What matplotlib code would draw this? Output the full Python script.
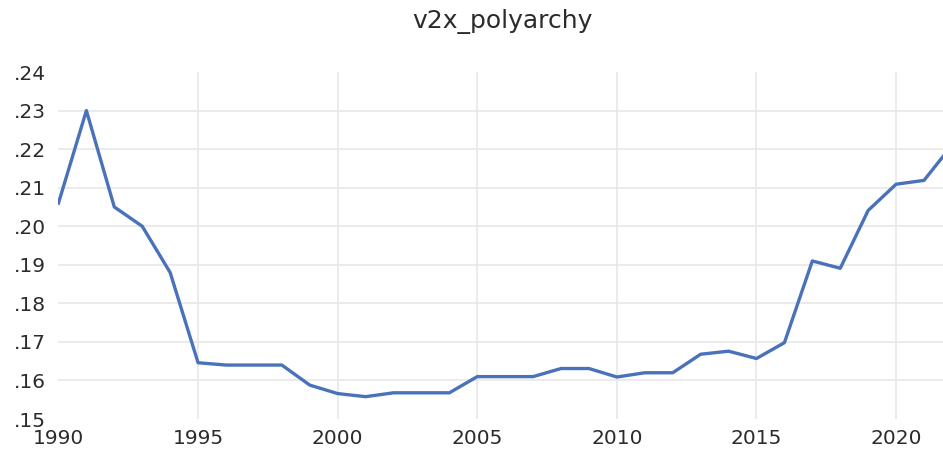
import numpy as np
import matplotlib.pyplot as plt
from matplotlib.ticker import FuncFormatter

# v2x_polyarchy by year
years = list(range(1990, 2023))
values = [0.206, 0.230, 0.205, 0.200, 0.188, 0.1646, 0.164, 0.164, 0.164, 0.1588,
          0.1566, 0.1558, 0.1568, 0.1568, 0.1568, 0.161, 0.161, 0.161, 0.1631, 0.1631,
          0.1609, 0.162, 0.162, 0.1668, 0.1676, 0.1657, 0.1698, 0.191, 0.1891, 0.2041,
          0.2109, 0.2119, 0.221]

title = 'v2x_polyarchy'
xticks = [1990, 1995, 2000, 2005, 2010, 2015, 2020]
yticks = [0.15, 0.16, 0.17, 0.18, 0.19, 0.20, 0.21, 0.22, 0.23, 0.24]

plt.rcParams['font.family'] = ['DejaVu Sans']

fig = plt.figure(figsize=(9.43, 4.53), dpi=100)
ax = fig.add_axes([0.062, 0.075, 0.938, 0.766])

ax.plot(years, values, color='#4A72BA', lw=2.4, solid_joinstyle='round')

ax.set_xlim(1990, 2021.68)
ax.set_ylim(0.15, 0.24)
ax.set_xticks(xticks)
ax.set_yticks(yticks)
ax.yaxis.set_major_formatter(FuncFormatter(lambda v, p: '{:.2f}'.format(v).lstrip('0')))

ax.grid(True, color='#E8E8E8', lw=1.2)
ax.set_axisbelow(True)
# no grid lines on the plot edges
ax.get_xgridlines()[0].set_visible(False)
ax.get_ygridlines()[0].set_visible(False)
ax.get_ygridlines()[-1].set_visible(False)
for s in ax.spines.values():
    s.set_visible(False)
ax.tick_params(length=0, labelsize=14.5, colors='#2b2b2b')
ax.tick_params(axis='x', pad=7)
ax.tick_params(axis='y', pad=9)

fig.text(0.533, 0.952, title, ha='center', va='center', fontsize=18, color='#2b2b2b')

fig.savefig('out.png', dpi=100)
